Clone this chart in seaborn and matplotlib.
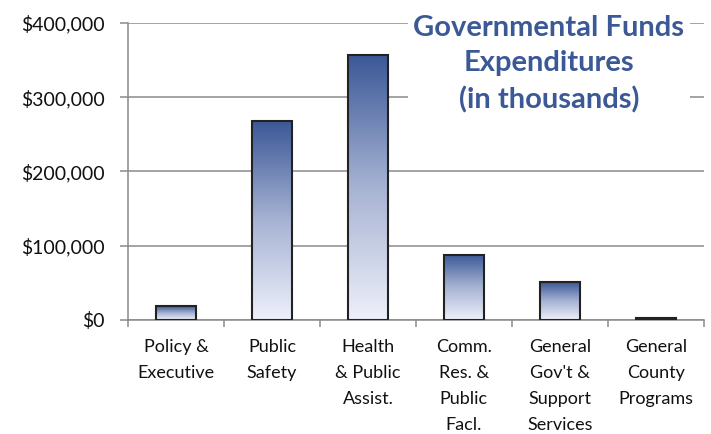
import numpy as np
import pandas as pd
import matplotlib
matplotlib.use("Agg")
import matplotlib.pyplot as plt
import seaborn as sns
from matplotlib.ticker import FuncFormatter, FixedLocator
from matplotlib.colors import LinearSegmentedColormap

# Datos (en miles de dólares)
categorias = ["Policy &\nExecutive", "Public\nSafety", "Health\n& Public\nAssist.",
              "Comm.\nRes. &\nPublic\nFacl.", "General\nGov't &\nSupport\nServices",
              "General\nCounty\nPrograms"]
gastos = [18000, 268000, 357000, 88000, 51000, 3000]
ticks_y = [0, 100000, 200000, 300000, 400000]

df = pd.DataFrame({"categoria": categorias, "gasto": gastos})

sns.set_style("white")
plt.rcParams['font.family'] = ['Lato', 'DejaVu Sans']

fig = plt.figure(figsize=(7.11, 4.34), dpi=100)
ax = fig.add_axes([0.18, 0.263, 0.81, 0.684])

sns.barplot(data=df, x="categoria", y="gasto", order=categorias, width=0.42,
            color="#4a66a3", edgecolor="#222222", linewidth=1.5, ax=ax, zorder=3)

# Degradado de azul oscuro (arriba) a casi blanco (abajo) en cada barra
cmap = LinearSegmentedColormap.from_list("grad", ["#eef0fa", "#a7b3d3", "#3b5897"])
grad = np.linspace(0, 1, 256).reshape(-1, 1)
for p in ax.patches:
    x0, y0 = p.get_x(), p.get_y()
    w, h = p.get_width(), p.get_height()
    p.set_facecolor("none")
    im = ax.imshow(grad, cmap=cmap, origin="lower", aspect="auto",
                   extent=[x0, x0 + w, y0, y0 + h], zorder=2.5)
    im.set_clip_path(p)

ax.set_xlim(-0.5, len(categorias) - 0.5)
ax.set_ylim(0, 400000)
ax.set_yticks(ticks_y)
ax.yaxis.set_major_formatter(FuncFormatter(lambda v, pos: f"${v:,.0f}"))
ax.grid(axis="y", color="#8a8a8a", linewidth=1.1, zorder=0)
ax.set_axisbelow(True)

ax.set_xlabel("")
ax.set_ylabel("")
for s in ["top", "right"]:
    ax.spines[s].set_visible(False)
for s in ["left", "bottom"]:
    ax.spines[s].set_color("#8a8a8a")
    ax.spines[s].set_linewidth(1.1)

ax.tick_params(axis="y", direction="out", length=6, color="#8a8a8a", width=1.1,
               labelsize=14, labelcolor="#111111", pad=11, left=True)
ax.tick_params(axis="x", which="major", length=0, labelsize=13, labelcolor="#111111", pad=14)
ax.xaxis.set_minor_locator(FixedLocator(np.arange(-0.5, len(categorias), 1)))
ax.tick_params(axis="x", which="minor", direction="out", length=5, color="#8a8a8a",
               width=1.1, bottom=True)
for lbl in ax.get_xticklabels():
    lbl.set_va("top")
    lbl.set_linespacing(1.75)

# Título en la esquina superior derecha, tapa las líneas de la cuadrícula
fig.text(0.772, 0.966, "Governmental Funds\nExpenditures\n(in thousands)",
         ha="center", va="top", fontsize=21, fontweight="bold", color="#3b5897",
         linespacing=1.45, zorder=10,
         bbox=dict(facecolor="white", edgecolor="none", pad=4))

fig.savefig("out.png", dpi=100)
